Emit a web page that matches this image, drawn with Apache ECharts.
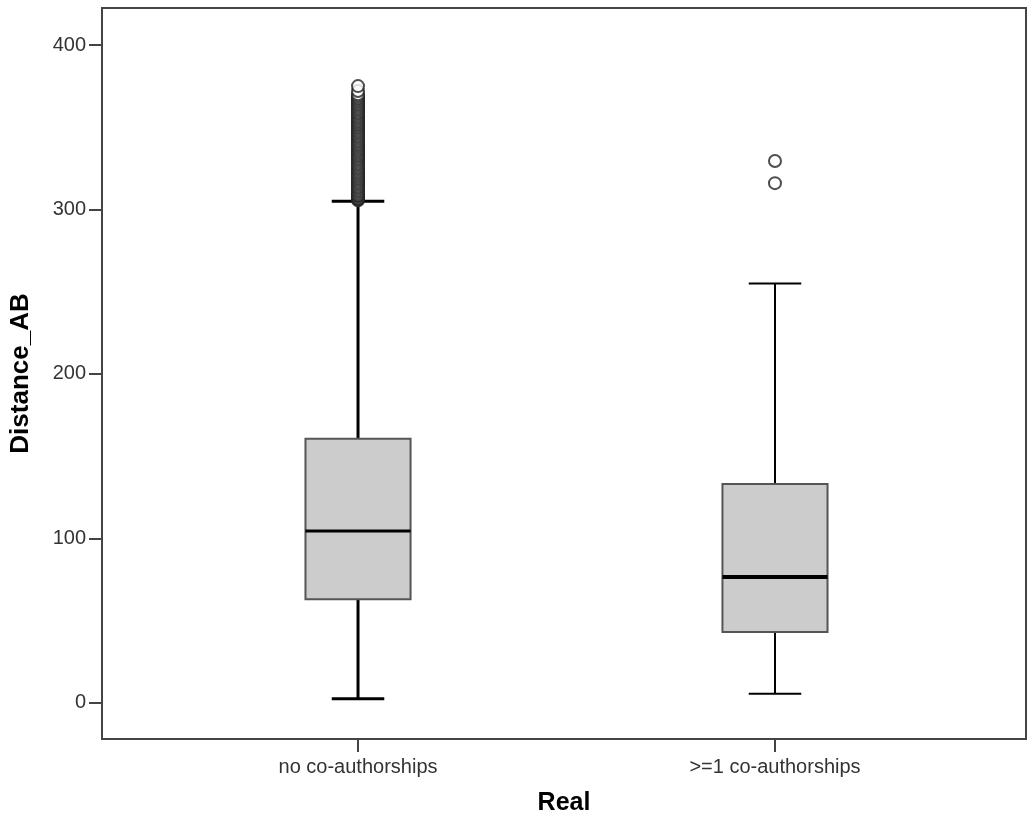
<!DOCTYPE html>
<html lang="en" style="height: 100%">
<head>
  <meta charset="UTF-8">
</head>
<body style="height: 100%; margin: 0; background: #fff">
  <div id="container" style="width: 1033px; height: 825px"></div>
  <script type="text/javascript" src="https://fastly.jsdelivr.net/npm/echarts@6/dist/echarts.min.js"></script>
  <script type="text/javascript">
    // groups on the x axis
    var categories = ['no co-authorships', '>=1 co-authorships'];
    // [lower whisker, Q1, median, Q3, upper whisker]
    var boxStats = [
      [2.4, 63, 104.5, 160.5, 305],
      [5.5, 43, 76.5, 133, 255]
    ];
    var outliersNo = [305.5, 306, 306.5, 307, 308, 308.5, 309, 310, 311, 312, 313, 314, 315, 316,
      317, 318, 319, 320, 321, 322, 323, 324, 325, 326, 327, 328, 329, 330, 331, 332, 333, 334,
      335, 336, 337, 338, 339, 340, 341, 342, 343, 344, 345, 346, 347, 348, 349, 350, 351, 352,
      353, 354, 355, 356, 357, 358, 359, 360, 361, 362, 363, 364, 365, 366, 367, 368, 369, 370,
      372, 375];
    var outliersCo = [316, 329.5];
    var yTicks = [0, 100, 200, 300, 400];

    var dom = document.getElementById('container');
    var myChart = echarts.init(dom, null, { renderer: 'canvas' });

    var whiskerWidth = [3, 2];
    var medianWidth = [3, 4];
    var font = 'Liberation Sans';

    var boxData = boxStats.map(function (s, i) {
      return [i].concat(s);
    });
    var outlierData = outliersNo.map(function (v) { return [0, v]; })
      .concat(outliersCo.map(function (v) { return [1, v]; }));

    function renderBox(params, api) {
      var x = api.value(0);
      var low = api.coord([x, api.value(1)]);
      var q1 = api.coord([x, api.value(2)]);
      var med = api.coord([x, api.value(3)]);
      var q3 = api.coord([x, api.value(4)]);
      var high = api.coord([x, api.value(5)]);
      var halfW = api.size([0.252, 0])[0] / 2;
      var capW = halfW / 2;
      var cx = low[0];
      var lw = whiskerWidth[params.dataIndex];
      var lineStyle = { stroke: '#000', lineWidth: lw };
      return {
        type: 'group',
        children: [
          { type: 'line', shape: { x1: cx, y1: high[1], x2: cx, y2: q3[1] }, style: lineStyle },
          { type: 'line', shape: { x1: cx, y1: q1[1], x2: cx, y2: low[1] }, style: lineStyle },
          { type: 'line', shape: { x1: cx - capW, y1: high[1], x2: cx + capW, y2: high[1] }, style: lineStyle },
          { type: 'line', shape: { x1: cx - capW, y1: low[1], x2: cx + capW, y2: low[1] }, style: lineStyle },
          {
            type: 'rect',
            shape: { x: cx - halfW, y: q3[1], width: halfW * 2, height: q1[1] - q3[1] },
            style: { fill: '#cccccc', stroke: '#555', lineWidth: 2 }
          },
          {
            type: 'line',
            shape: { x1: cx - halfW, y1: med[1], x2: cx + halfW, y2: med[1] },
            style: { stroke: '#000', lineWidth: medianWidth[params.dataIndex] }
          }
        ]
      };
    }

    var option = {
      backgroundColor: '#fff',
      animation: false,
      grid: {
        left: 102,
        right: 7,
        top: 8,
        bottom: 86,
        show: true,
        borderColor: '#444',
        borderWidth: 2,
        containLabel: false
      },
      xAxis: {
        type: 'value',
        min: -0.614,
        max: 1.602,
        name: 'Real',
        nameLocation: 'middle',
        nameGap: 52,
        nameTextStyle: { fontFamily: font, fontSize: 25, fontWeight: 'bold', color: '#000' },
        axisLine: { show: true, onZero: false, lineStyle: { color: '#444', width: 2 } },
        axisTick: { show: true, customValues: [0, 1], length: 13, lineStyle: { color: '#444', width: 2 } },
        axisLabel: {
          customValues: [0, 1],
          formatter: function (v) { return categories[Math.round(v)]; },
          fontFamily: font,
          fontSize: 20,
          color: '#333',
          margin: 18
        },
        splitLine: { show: false }
      },
      yAxis: {
        type: 'value',
        min: -22,
        max: 422.5,
        name: 'Distance_AB',
        nameLocation: 'middle',
        nameGap: 68,
        nameTextStyle: { fontFamily: font, fontSize: 26, fontWeight: 'bold', color: '#000' },
        axisLine: { show: true, onZero: false, lineStyle: { color: '#444', width: 2 } },
        axisTick: { show: true, customValues: yTicks, length: 13, lineStyle: { color: '#444', width: 2 } },
        axisLabel: {
          customValues: yTicks,
          fontFamily: font,
          fontSize: 20,
          color: '#333',
          margin: 16
        },
        splitLine: { show: false }
      },
      series: [
        {
          type: 'custom',
          renderItem: renderBox,
          encode: { x: 0, y: [1, 2, 3, 4, 5] },
          data: boxData,
          z: 2
        },
        {
          type: 'scatter',
          data: outlierData,
          symbol: 'circle',
          symbolSize: 12,
          itemStyle: { color: '#fff', borderColor: '#222', borderWidth: 2 },
          z: 3
        }
      ]
    };

    myChart.setOption(option);
    window.addEventListener('resize', myChart.resize);
  </script>
</body>
</html>
